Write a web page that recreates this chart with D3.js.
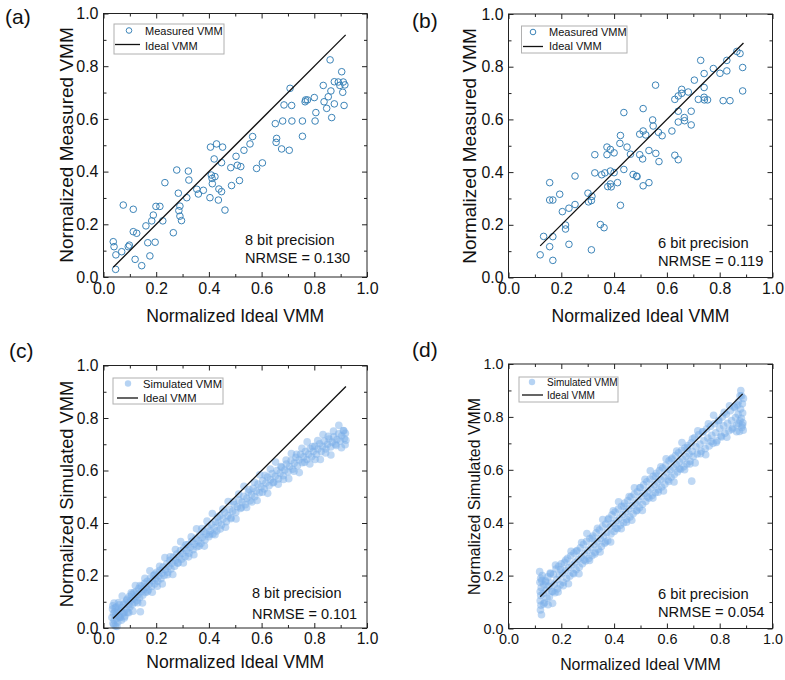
<!DOCTYPE html>
<html>
<head>
<meta charset="utf-8">
<script src="https://cdn.jsdelivr.net/npm/d3@7"></script>
<style>
body{margin:0;background:#fff;}
svg{display:block;font-family:"Liberation Sans",Arial,sans-serif;}
</style>
</head>
<body>
<svg id="chart" width="785" height="680"></svg>
<script>
// values: [ideal, measured/simulated]
var measuredA = [[0.037,0.134],[0.040,0.115],[0.047,0.084],[0.046,0.029],[0.069,0.096],[0.075,0.273],[0.094,0.115],[0.098,0.121],
  [0.113,0.257],[0.113,0.172],[0.120,0.067],[0.126,0.166],[0.145,0.043],[0.161,0.194],[0.168,0.130],[0.176,0.080],[0.183,0.213],
  [0.189,0.235],[0.196,0.132],[0.199,0.268],[0.214,0.268],[0.225,0.213],[0.233,0.358],[0.265,0.168],[0.278,0.406],[0.284,0.318],
  [0.286,0.252],[0.290,0.231],[0.296,0.214],[0.290,0.269],[0.316,0.301],[0.322,0.402],[0.324,0.368],[0.354,0.333],[0.360,0.315],
  [0.379,0.329],[0.404,0.301],[0.406,0.493],[0.409,0.387],[0.412,0.374],[0.413,0.354],[0.420,0.448],[0.423,0.381],[0.429,0.505],
  [0.436,0.292],[0.438,0.334],[0.448,0.434],[0.452,0.493],[0.448,0.324],[0.461,0.254],[0.483,0.415],[0.486,0.347],[0.503,0.458],
  [0.508,0.424],[0.516,0.366],[0.521,0.419],[0.533,0.481],[0.556,0.505],[0.566,0.533],[0.581,0.412],[0.603,0.433],[0.652,0.582],
  [0.657,0.526],[0.655,0.511],[0.676,0.486],[0.680,0.592],[0.685,0.653],[0.708,0.716],[0.705,0.481],[0.714,0.651],[0.715,0.592],
  [0.755,0.534],[0.755,0.592],[0.765,0.665],[0.767,0.672],[0.774,0.672],[0.800,0.681],[0.803,0.592],[0.806,0.624],[0.834,0.727],
  [0.837,0.665],[0.847,0.640],[0.853,0.684],[0.860,0.824],[0.863,0.706],[0.866,0.605],[0.876,0.657],[0.876,0.741],[0.891,0.740],
  [0.897,0.727],[0.904,0.779],[0.910,0.740],[0.908,0.701],[0.913,0.651],[0.916,0.729]];

var measuredB = [[0.120,0.086],[0.133,0.156],[0.156,0.117],[0.156,0.360],[0.156,0.294],[0.168,0.294],[0.168,0.155],[0.168,0.065],
  [0.194,0.316],[0.204,0.250],[0.216,0.199],[0.216,0.184],[0.229,0.263],[0.229,0.126],[0.252,0.385],[0.252,0.277],[0.301,0.320],
  [0.303,0.287],[0.314,0.105],[0.314,0.292],[0.316,0.308],[0.327,0.466],[0.327,0.397],[0.348,0.201],[0.353,0.390],[0.362,0.189],
  [0.365,0.397],[0.373,0.495],[0.373,0.466],[0.376,0.345],[0.386,0.486],[0.386,0.404],[0.386,0.355],[0.389,0.344],[0.400,0.473],
  [0.400,0.398],[0.413,0.360],[0.422,0.509],[0.424,0.539],[0.424,0.274],[0.437,0.626],[0.437,0.410],[0.449,0.495],[0.462,0.468],
  [0.472,0.391],[0.485,0.385],[0.487,0.383],[0.497,0.544],[0.497,0.466],[0.508,0.450],[0.510,0.641],[0.510,0.556],[0.510,0.348],
  [0.520,0.541],[0.532,0.482],[0.532,0.360],[0.546,0.598],[0.548,0.575],[0.557,0.730],[0.558,0.471],[0.568,0.551],[0.570,0.440],
  [0.582,0.538],[0.619,0.556],[0.630,0.676],[0.630,0.464],[0.643,0.689],[0.643,0.631],[0.643,0.590],[0.643,0.447],[0.656,0.714],
  [0.656,0.699],[0.666,0.607],[0.667,0.595],[0.681,0.704],[0.692,0.631],[0.692,0.579],[0.704,0.749],[0.719,0.676],[0.728,0.824],
  [0.741,0.774],[0.741,0.721],[0.741,0.684],[0.742,0.674],[0.754,0.674],[0.776,0.793],[0.801,0.775],[0.813,0.671],[0.827,0.784],
  [0.827,0.824],[0.839,0.671],[0.865,0.858],[0.877,0.850],[0.887,0.797],[0.887,0.708]];

var simulatedC = [[0.032,0.040],[0.034,0.072],[0.036,0.018],[0.038,0.055],[0.040,0.095],[0.041,0.030],[0.043,0.062],[0.045,0.008],
  [0.046,0.048],[0.048,0.080],[0.050,0.035],[0.052,0.060],[0.054,0.022],[0.056,0.070],[0.058,0.045],[0.060,0.088],[0.063,0.040],
  [0.066,0.065],[0.068,0.030],[0.070,0.078],[0.073,0.055],[0.076,0.090],[0.078,0.060],[0.081,0.045],[0.084,0.098],[0.087,0.072],
  [0.090,0.110],[0.092,0.060],[0.095,0.088],[0.098,0.120],[0.100,0.080],[0.104,0.105],[0.107,0.128],[0.110,0.090],[0.113,0.112],
  [0.116,0.135],[0.119,0.098],[0.122,0.120],[0.125,0.140],[0.128,0.105],[0.131,0.128],[0.134,0.150],[0.137,0.115],[0.140,0.062],
  [0.143,0.138],[0.146,0.160],[0.149,0.125],[0.152,0.148],[0.156,0.170],[0.159,0.135],[0.162,0.155],[0.166,0.178],[0.170,0.145],
  [0.174,0.168],[0.178,0.190],[0.182,0.158],[0.186,0.180],[0.190,0.200],[0.194,0.168],[0.198,0.188],[0.202,0.212],[0.206,0.178],
  [0.210,0.198],[0.214,0.220],[0.218,0.188],[0.222,0.210],[0.226,0.232],[0.230,0.200],[0.235,0.222],[0.240,0.245],[0.244,0.212],
  [0.248,0.235],[0.252,0.258],[0.256,0.225],[0.260,0.248],[0.265,0.270],[0.270,0.235],[0.274,0.258],[0.278,0.282],[0.282,0.248],
  [0.287,0.272],[0.292,0.295],[0.296,0.262],[0.300,0.285],[0.305,0.305],[0.310,0.272],[0.315,0.295],[0.320,0.318],[0.325,0.285],
  [0.330,0.308],[0.335,0.330],[0.340,0.298],[0.345,0.320],[0.350,0.342],[0.355,0.310],[0.360,0.332],[0.365,0.355],[0.370,0.322],
  [0.375,0.345],[0.380,0.368],[0.385,0.335],[0.390,0.358],[0.395,0.385],[0.400,0.348],[0.405,0.370],[0.410,0.395],[0.415,0.358],
  [0.420,0.382],[0.425,0.405],[0.430,0.370],[0.436,0.402],[0.442,0.428],[0.448,0.392],[0.454,0.415],[0.460,0.440],[0.466,0.405],
  [0.472,0.428],[0.478,0.452],[0.484,0.420],[0.490,0.445],[0.496,0.470],[0.502,0.440],[0.508,0.462],[0.514,0.488],[0.520,0.455],
  [0.526,0.480],[0.532,0.502],[0.538,0.470],[0.544,0.494],[0.550,0.518],[0.556,0.485],[0.562,0.508],[0.568,0.532],[0.574,0.500],
  [0.580,0.522],[0.586,0.548],[0.592,0.515],[0.598,0.538],[0.604,0.562],[0.610,0.530],[0.616,0.552],[0.622,0.575],[0.628,0.542],
  [0.634,0.565],[0.640,0.588],[0.646,0.555],[0.652,0.578],[0.658,0.600],[0.664,0.568],[0.670,0.590],[0.676,0.612],[0.682,0.580],
  [0.688,0.602],[0.694,0.625],[0.700,0.595],[0.706,0.615],[0.712,0.638],[0.718,0.605],[0.724,0.628],[0.730,0.650],[0.736,0.618],
  [0.742,0.640],[0.748,0.662],[0.754,0.630],[0.760,0.652],[0.766,0.672],[0.772,0.642],[0.778,0.662],[0.784,0.684],[0.790,0.652],
  [0.796,0.672],[0.802,0.692],[0.808,0.662],[0.814,0.682],[0.820,0.702],[0.826,0.672],[0.832,0.692],[0.838,0.712],[0.844,0.682],
  [0.850,0.700],[0.856,0.720],[0.862,0.690],[0.868,0.708],[0.874,0.728],[0.880,0.700],[0.886,0.718],[0.892,0.740],[0.898,0.712],
  [0.904,0.732],[0.910,0.752],[0.914,0.722],[0.918,0.742],[0.920,0.715],
  [0.035,0.085],[0.039,0.013],[0.044,0.076],[0.051,0.006],[0.057,0.097],[0.062,0.042],[0.071,0.122],[0.079,0.038],[0.088,0.106],
  [0.096,0.058],[0.105,0.134],[0.112,0.064],[0.121,0.162],[0.130,0.096],[0.139,0.162],[0.148,0.095],[0.157,0.189],[0.167,0.138],
  [0.176,0.218],[0.185,0.136],[0.195,0.205],[0.204,0.159],[0.213,0.235],[0.223,0.168],[0.233,0.268],[0.243,0.203],[0.253,0.271],
  [0.263,0.204],[0.273,0.299],[0.283,0.248],[0.293,0.329],[0.303,0.248],[0.313,0.317],[0.323,0.271],[0.333,0.347],[0.343,0.279],
  [0.353,0.378],[0.363,0.312],[0.373,0.379],[0.383,0.312],[0.393,0.407],[0.403,0.356],[0.413,0.436],[0.423,0.355],[0.433,0.423],
  [0.443,0.377],[0.453,0.453],[0.463,0.384],[0.473,0.482],[0.483,0.416],[0.493,0.482],[0.503,0.415],[0.513,0.510],[0.523,0.459],
  [0.533,0.540],[0.543,0.459],[0.553,0.527],[0.563,0.480],[0.573,0.555],[0.583,0.486],[0.593,0.584],[0.603,0.517],[0.613,0.582],
  [0.623,0.513],[0.633,0.606],[0.643,0.553],[0.653,0.632],[0.663,0.548],[0.673,0.615],[0.683,0.566],[0.693,0.640],[0.703,0.569],
  [0.713,0.665],[0.723,0.597],[0.733,0.662],[0.743,0.592],[0.753,0.685],[0.763,0.631],[0.773,0.709],[0.783,0.625],[0.793,0.691],
  [0.803,0.642],[0.813,0.714],[0.823,0.642],[0.833,0.737],[0.843,0.667],[0.853,0.730],[0.863,0.659],[0.873,0.750],[0.883,0.695],
  [0.893,0.772],[0.903,0.687],[0.912,0.751],[0.917,0.698]];

var simulatedD = [[0.118,0.215],[0.119,0.175],[0.120,0.140],[0.120,0.105],[0.121,0.070],[0.122,0.190],[0.122,0.125],[0.123,0.088],
  [0.124,0.155],[0.125,0.052],[0.128,0.200],[0.131,0.132],[0.134,0.165],[0.137,0.098],[0.140,0.180],[0.143,0.145],[0.146,0.115],
  [0.149,0.195],[0.152,0.160],[0.155,0.120],[0.158,0.210],[0.161,0.172],[0.164,0.140],[0.167,0.095],[0.170,0.205],[0.173,0.165],
  [0.176,0.135],[0.180,0.225],[0.183,0.185],[0.186,0.150],[0.190,0.235],[0.193,0.200],[0.196,0.165],[0.200,0.245],[0.204,0.210],
  [0.208,0.175],[0.212,0.250],[0.216,0.220],[0.220,0.190],[0.224,0.265],[0.228,0.230],[0.232,0.198],[0.236,0.275],[0.240,0.240],
  [0.244,0.210],[0.248,0.285],[0.252,0.250],[0.256,0.222],[0.260,0.295],[0.264,0.262],[0.268,0.232],[0.272,0.305],[0.276,0.270],
  [0.280,0.245],[0.284,0.318],[0.288,0.282],[0.292,0.255],[0.296,0.330],[0.300,0.295],[0.304,0.265],[0.308,0.340],[0.312,0.305],
  [0.316,0.275],[0.320,0.350],[0.324,0.318],[0.328,0.288],[0.332,0.362],[0.336,0.328],[0.340,0.300],[0.344,0.372],[0.348,0.340],
  [0.352,0.310],[0.356,0.385],[0.360,0.350],[0.364,0.322],[0.368,0.395],[0.372,0.362],[0.376,0.332],[0.380,0.417],[0.384,0.384],
  [0.388,0.357],[0.392,0.430],[0.396,0.397],[0.400,0.367],[0.404,0.440],[0.408,0.407],[0.412,0.377],[0.416,0.452],[0.420,0.417],
  [0.424,0.390],[0.428,0.462],[0.432,0.430],[0.436,0.400],[0.440,0.474],[0.444,0.440],[0.448,0.412],[0.452,0.484],[0.456,0.452],
  [0.460,0.422],[0.464,0.497],[0.468,0.464],[0.472,0.434],[0.476,0.507],[0.480,0.474],[0.484,0.444],[0.488,0.517],[0.492,0.484],
  [0.496,0.457],[0.500,0.533],[0.504,0.500],[0.508,0.470],[0.512,0.543],[0.516,0.510],[0.520,0.480],[0.524,0.555],[0.528,0.520],
  [0.532,0.493],[0.536,0.565],[0.540,0.530],[0.544,0.503],[0.548,0.575],[0.552,0.543],[0.556,0.513],[0.560,0.587],[0.564,0.553],
  [0.568,0.525],[0.572,0.597],[0.576,0.563],[0.580,0.535],[0.584,0.607],[0.588,0.573],[0.592,0.545],[0.596,0.617],[0.600,0.590],
  [0.604,0.562],[0.608,0.634],[0.612,0.600],[0.616,0.572],[0.620,0.644],[0.624,0.610],[0.628,0.582],[0.632,0.654],[0.636,0.620],
  [0.640,0.592],[0.644,0.664],[0.648,0.630],[0.652,0.602],[0.656,0.674],[0.660,0.640],[0.664,0.612],[0.668,0.682],[0.672,0.650],
  [0.676,0.622],[0.680,0.692],[0.684,0.660],[0.688,0.632],[0.692,0.702],[0.694,0.557],[0.696,0.670],[0.700,0.650],[0.705,0.722],
  [0.710,0.687],[0.715,0.660],[0.720,0.732],[0.725,0.697],[0.730,0.670],[0.735,0.744],[0.740,0.710],[0.745,0.680],[0.750,0.754],
  [0.755,0.720],[0.760,0.690],[0.765,0.764],[0.770,0.730],[0.775,0.700],[0.780,0.774],[0.785,0.740],[0.790,0.710],[0.795,0.784],
  [0.800,0.756],[0.805,0.728],[0.810,0.800],[0.815,0.766],[0.820,0.738],[0.825,0.810],[0.830,0.776],[0.835,0.748],[0.840,0.823],
  [0.845,0.786],[0.850,0.758],[0.855,0.838],[0.860,0.798],[0.865,0.770],[0.868,0.845],[0.870,0.810],[0.872,0.775],[0.875,0.745],
  [0.877,0.880],[0.879,0.830],[0.880,0.900],[0.882,0.795],[0.884,0.760],[0.886,0.850],[0.887,0.815],[0.888,0.778],[0.889,0.750],
  [0.890,0.870],
  [0.126,0.181],[0.133,0.093],[0.141,0.176],[0.150,0.090],[0.159,0.207],[0.168,0.140],[0.178,0.240],[0.188,0.138],[0.198,0.223],
  [0.207,0.162],[0.217,0.259],[0.227,0.169],[0.237,0.292],[0.247,0.207],[0.257,0.292],[0.267,0.207],[0.277,0.325],[0.287,0.259],
  [0.297,0.359],[0.307,0.257],[0.317,0.342],[0.327,0.282],[0.337,0.379],[0.347,0.289],[0.357,0.412],[0.367,0.327],[0.377,0.412],
  [0.387,0.327],[0.397,0.445],[0.407,0.379],[0.417,0.479],[0.427,0.377],[0.437,0.462],[0.447,0.402],[0.457,0.499],[0.467,0.409],
  [0.477,0.532],[0.487,0.447],[0.497,0.532],[0.507,0.446],[0.517,0.564],[0.527,0.497],[0.537,0.596],[0.547,0.493],[0.557,0.576],
  [0.567,0.515],[0.577,0.611],[0.587,0.520],[0.597,0.642],[0.607,0.556],[0.617,0.640],[0.627,0.554],[0.637,0.671],[0.647,0.604],
  [0.657,0.703],[0.667,0.600],[0.677,0.683],[0.687,0.622],[0.697,0.717],[0.707,0.626],[0.717,0.747],[0.727,0.661],[0.737,0.744],
  [0.747,0.657],[0.757,0.774],[0.767,0.707],[0.777,0.806],[0.787,0.703],[0.797,0.787],[0.807,0.724],[0.817,0.817],[0.827,0.723],
  [0.837,0.842],[0.847,0.753],[0.857,0.835],[0.864,0.744],[0.871,0.857],[0.877,0.785],[0.883,0.879],[0.886,0.768]];

// ideal line end points (x = y)
var idealA = [0.037, 0.919];
var idealB = [0.120, 0.890];
var idealC = [0.036, 0.920];
var idealD = [0.120, 0.887];

var majorTicks = [0, 0.2, 0.4, 0.6, 0.8, 1.0];
var minorTicks = [0.1, 0.3, 0.5, 0.7, 0.9];
var panelLabels = ["(a)", "(b)", "(c)", "(d)"];
var xTitle = "Normalized Ideal VMM";
var yTitles = ["Normalized Measured VMM", "Normalized Measured VMM", "Normalized Simulated VMM", "Normalized Simulated VMM"];
var legendNames = ["Measured VMM", "Measured VMM", "Simulated VMM", "Simulated VMM"];
var idealName = "Ideal VMM";
var precisionText = ["8 bit precision", "6 bit precision", "8 bit precision", "6 bit precision"];
var nrmseText = ["NRMSE = 0.130", "NRMSE = 0.119", "NRMSE = 0.101", "NRMSE = 0.054"];

var measuredColor = "#3c84b8";
var simColor = "#7aaee9";
var fontFam = '"Liberation Sans", Arial, sans-serif';

// layout of each panel (pixels)
var panels = [
  {data: measuredA, ideal: idealA, hollow: true,
   left: 103.5, right: 367, top: 13.5, bottom: 277, tickFs: 16, xtFs: 17.6, ytFs: 19,
   lab: [5, 24], ytX: 73, ytY: 145, xtY: 322,
   leg: [114, 24, 110, 30], mk: [129, 30.5], ln: [115, 140, 44.5], legTx: 145, legY: [35, 49.5], legFs: 11,
   ann: [245, 245, 263], annFs: 14.5},
  {data: measuredB, ideal: idealB, hollow: true,
   left: 508.5, right: 772.5, top: 14, bottom: 277.5, tickFs: 15.8, xtFs: 17.6, ytFs: 19,
   lab: [412, 28], ytX: 476, ytY: 146, xtY: 322,
   leg: [521.5, 26, 105.5, 27], mk: [533, 32], ln: [523, 543, 46.5], legTx: 549, legY: [36, 50], legFs: 11,
   ann: [658, 248, 266], annFs: 14.7},
  {data: simulatedC, ideal: idealC, hollow: false,
   left: 103.5, right: 367, top: 365.5, bottom: 628, tickFs: 15.6, xtFs: 17.6, ytFs: 18.3,
   lab: [9, 358], ytX: 73, ytY: 494, xtY: 668,
   leg: [113, 378, 110, 26], mk: [128, 383.5], ln: [117, 138, 398], legTx: 143, legY: [387.5, 401.5], legFs: 11.2,
   ann: [252, 598, 619], annFs: 14.5},
  {data: simulatedD, ideal: idealD, hollow: false,
   left: 508.5, right: 772.5, top: 364, bottom: 628.5, tickFs: 14.4, xtFs: 15.9, ytFs: 15.9,
   lab: [412, 357], ytX: 480, ytY: 496.5, xtY: 670,
   leg: [519, 377, 99, 25], mk: [532, 382], ln: [522, 543, 395], legTx: 547, legY: [385.5, 398.5], legFs: 10,
   ann: [658, 599, 617], annFs: 14.7}
];

var svg = d3.select("#chart");

function addAxis(g, axis, ticks, size, labels, fs){
  var a = g.append("g").call(axis.tickValues(ticks).tickSizeInner(-size).tickSizeOuter(0)
      .tickPadding(labels ? 5 : 0).tickFormat(labels ? d3.format(".1f") : ""));
  a.select(".domain").remove();
  a.attr("font-size", fs).attr("font-family", fontFam).attr("color", "#222");
  a.selectAll("text").attr("fill", "#111");
  return a;
}

panels.forEach(function(p, i){
  var x = d3.scaleLinear().domain([0, 1]).range([p.left, p.right]);
  var y = d3.scaleLinear().domain([0, 1]).range([p.bottom, p.top]);
  var g = svg.append("g");

  // points
  var pts = g.selectAll("circle.pt").data(p.data).enter().append("circle")
    .attr("class", "pt")
    .attr("cx", function(d){ return x(d[0]); })
    .attr("cy", function(d){ return y(d[1]); });
  if(p.hollow){
    pts.attr("r", 3.3).attr("fill", "none").attr("stroke", measuredColor).attr("stroke-width", 1);
  }else{
    pts.attr("r", 3.8).attr("fill", simColor).attr("fill-opacity", 0.48);
  }

  // ideal line
  g.append("line")
    .attr("x1", x(p.ideal[0])).attr("y1", y(p.ideal[0]))
    .attr("x2", x(p.ideal[1])).attr("y2", y(p.ideal[1]))
    .attr("stroke", "#111").attr("stroke-width", 1.3);

  // frame + ticks on all four sides, pointing inward
  var bot = addAxis(g, d3.axisBottom(x), majorTicks, 5, true, p.tickFs).attr("transform", "translate(0," + p.bottom + ")");
  addAxis(g, d3.axisBottom(x), minorTicks, 3, false, p.tickFs).attr("transform", "translate(0," + p.bottom + ")");
  addAxis(g, d3.axisLeft(y), majorTicks, 5, true, p.tickFs).attr("transform", "translate(" + p.left + ",0)");
  addAxis(g, d3.axisLeft(y), minorTicks, 3, false, p.tickFs).attr("transform", "translate(" + p.left + ",0)");
  addAxis(g, d3.axisTop(x), majorTicks, 5, false, p.tickFs).attr("transform", "translate(0," + p.top + ")");
  addAxis(g, d3.axisTop(x), minorTicks, 3, false, p.tickFs).attr("transform", "translate(0," + p.top + ")");
  addAxis(g, d3.axisRight(y), majorTicks, 5, false, p.tickFs).attr("transform", "translate(" + p.right + ",0)");
  addAxis(g, d3.axisRight(y), minorTicks, 3, false, p.tickFs).attr("transform", "translate(" + p.right + ",0)");
  bot.selectAll("text").attr("dy", "0.72em");

  g.append("rect")
    .attr("x", p.left).attr("y", p.top)
    .attr("width", p.right - p.left).attr("height", p.bottom - p.top)
    .attr("fill", "none").attr("stroke", "#222").attr("stroke-width", 1);

  // titles
  g.append("text").text(xTitle)
    .attr("x", (p.left + p.right) / 2).attr("y", p.xtY)
    .attr("text-anchor", "middle").attr("font-size", p.xtFs).attr("fill", "#111");
  g.append("text").text(yTitles[i])
    .attr("transform", "translate(" + p.ytX + "," + p.ytY + ") rotate(-90)")
    .attr("text-anchor", "middle").attr("font-size", p.ytFs).attr("fill", "#111");
  g.append("text").text(panelLabels[i])
    .attr("x", p.lab[0]).attr("y", p.lab[1])
    .attr("font-size", 21).attr("fill", "#111");

  // legend
  g.append("rect")
    .attr("x", p.leg[0]).attr("y", p.leg[1]).attr("width", p.leg[2]).attr("height", p.leg[3])
    .attr("fill", "#fff").attr("stroke", "#b0b0b0").attr("stroke-width", 1);
  var mk = g.append("circle").attr("cx", p.mk[0]).attr("cy", p.mk[1]);
  if(p.hollow){
    mk.attr("r", 2.8).attr("fill", "none").attr("stroke", measuredColor).attr("stroke-width", 1);
  }else{
    mk.attr("r", 3.2).attr("fill", simColor).attr("fill-opacity", 0.55);
  }
  g.append("line")
    .attr("x1", p.ln[0]).attr("x2", p.ln[1]).attr("y1", p.ln[2]).attr("y2", p.ln[2])
    .attr("stroke", "#111").attr("stroke-width", 1.3);
  g.append("text").text(legendNames[i])
    .attr("x", p.legTx).attr("y", p.legY[0]).attr("font-size", p.legFs).attr("fill", "#111");
  g.append("text").text(idealName)
    .attr("x", p.legTx).attr("y", p.legY[1]).attr("font-size", p.legFs).attr("fill", "#111");

  // annotation
  g.append("text").text(precisionText[i])
    .attr("x", p.ann[0]).attr("y", p.ann[1]).attr("font-size", p.annFs).attr("fill", "#111");
  g.append("text").text(nrmseText[i])
    .attr("x", p.ann[0]).attr("y", p.ann[2]).attr("font-size", p.annFs).attr("fill", "#111");
});
</script>
</body>
</html>
